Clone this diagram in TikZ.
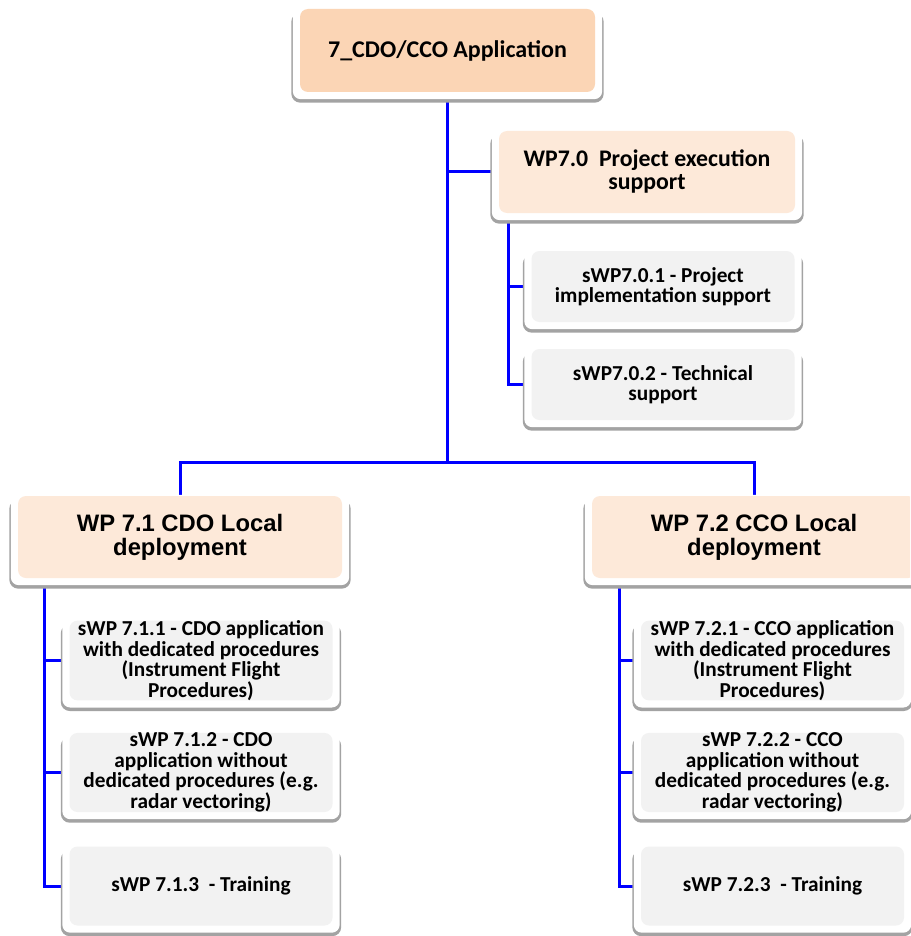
\documentclass[tikz,border=0pt]{standalone}
\usepackage{fontspec}
\setmainfont{Carlito}
\newfontfamily\arialfont{Liberation Sans}
\pgfdeclarelayer{lines}
\pgfdeclarelayer{background}
\pgfsetlayers{lines,background,main}

\definecolor{peach}{HTML}{FBD5B5}
\definecolor{peachlight}{HTML}{FDE9D9}
\definecolor{boxgray}{HTML}{F2F2F2}
\definecolor{shadowgray}{HTML}{A3A3A3}

\tikzset{
  wpbox/.style={rounded corners=8pt, align=center, inner sep=0pt, text=black},
  topbox/.style={wpbox, fill=peach, minimum width=295pt, minimum height=83pt,
    font=\fontsize{24}{26}\selectfont\bfseries},
  wpzero/.style={wpbox, fill=peachlight, minimum width=296pt, minimum height=82pt,
    font=\fontsize{23.8}{23}\selectfont\bfseries},
  wplocal/.style={wpbox, fill=peachlight, minimum width=324pt, minimum height=82pt,
    font=\arialfont\fontsize{23.8}{24}\selectfont\bfseries},
  subbox/.style={wpbox, fill=boxgray, minimum width=263pt, minimum height=79pt,
    font=\fontsize{21.3}{20.5}\selectfont\bfseries},
  link/.style={blue, line width=3pt}
}

% white frame with a gray shadow behind each box
\newcommand\wpframe[1]{%
  \fill[shadowgray, rounded corners=9pt] ([shift={(-8.5pt,-4pt)}]#1.north west)
    rectangle ([shift={(8.5pt,-10.5pt)}]#1.south east);
  \fill[white, rounded corners=8pt] ([shift={(-7pt,1pt)}]#1.north west)
    rectangle ([shift={(7pt,-7pt)}]#1.south east);}

\begin{document}
\begin{tikzpicture}[x=1pt, y=-1pt]
  \clip (0,0) rectangle (910,936);

  % boxes
  \node[topbox] (top) at (447.5,50.5) {7\_CDO/CCO Application};
  \node[wpzero] (wp0) at (647,172) {WP7.0\ \ Project execution\\support};
  \node[subbox, minimum height=71pt] (s01) at (663,286.5) {sWP7.0.1 - Project\\implementation support};
  \node[subbox, minimum height=71pt] (s02) at (663,384.5) {sWP7.0.2 - Technical\\support};

  \node[wplocal] (wp1) at (180,537) {WP 7.1 CDO Local\\deployment};
  \node[wplocal] (wp2) at (754,537) {WP 7.2 CCO Local\\deployment};

  \node[subbox] (s11) at (201,660.5) {sWP 7.1.1 - CDO application\\with dedicated procedures\\(Instrument Flight\\Procedures)};
  \node[subbox] (s12) at (201,772.5) {sWP 7.1.2 - CDO\\application without\\dedicated procedures (e.g.\\radar vectoring)};
  \node[subbox] (s13) at (201,886) {sWP 7.1.3\ \ - Training};

  \node[subbox] (s21) at (772.5,660.5) {sWP 7.2.1 - CCO application\\with dedicated procedures\\(Instrument Flight\\Procedures)};
  \node[subbox] (s22) at (772.5,772.5) {sWP 7.2.2 - CCO\\application without\\dedicated procedures (e.g.\\radar vectoring)};
  \node[subbox] (s23) at (772.5,886) {sWP 7.2.3\ \ - Training};

  \begin{pgfonlayer}{background}
    \foreach \n in {top,wp0,s01,s02,wp1,wp2,s11,s12,s13,s21,s22,s23} {\wpframe{\n}}
  \end{pgfonlayer}

  % connectors
  \begin{pgfonlayer}{lines}
    \coordinate (j) at (447.5,462);
    \draw[link] (top.south) -- (j);
    \draw[link] (wp1.north) |- (j) -| (wp2.north);
    \draw[link] (top.south |- wp0.west) -- (wp0.west);

    \draw[link] ([xshift=10pt]wp0.south west) |- (s01.west);
    \draw[link] ([xshift=10pt]wp0.south west) |- (s02.west);

    \foreach \s in {s11,s12,s13}
      \draw[link] ([xshift=27pt]wp1.south west) |- (\s.west);
    \foreach \s in {s21,s22,s23}
      \draw[link] ([xshift=28pt]wp2.south west) |- (\s.west);
  \end{pgfonlayer}
\end{tikzpicture}
\end{document}
